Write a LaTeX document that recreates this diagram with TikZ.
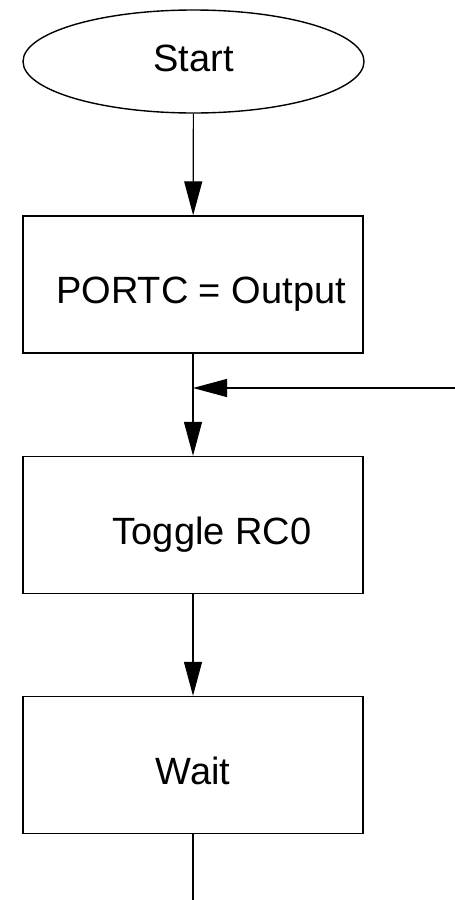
\documentclass[tikz,border=0pt]{standalone}
\usepackage{fontspec}
\setmainfont{Liberation Sans}
\usetikzlibrary{shapes.geometric,arrows.meta}
\tikzset{
	stepbox/.style={draw, line width=1.4pt, minimum width=340pt, minimum height=137pt, inner sep=0pt, text height=46pt, text depth=8pt},
	flow/.style={line width=1.2pt, -{Triangle[length=34pt,width=18pt]}}
}
\begin{document}
\begin{tikzpicture}[x=1pt,y=-1pt,font=\fontsize{38}{44}\selectfont]
				\useasboundingbox (0,0) rectangle (455,900);
				\node[draw, ellipse, line width=1.4pt, minimum width=341pt, minimum height=103pt, inner sep=0pt, text depth=6pt] (start) at (193.5,61.5) {Start};
				\node[stepbox] (portc) at (193,284.5) {\hspace*{16pt}PORTC = Output};
				\node[stepbox] (toggle) at (193,525) {\hspace*{38pt}Toggle RC0};
				\node[stepbox] (wait) at (193,765) {Wait};
				\coordinate (loopin) at (455,388);
				\coordinate (endpt) at (193,900);
				\draw[flow] (start) -- (portc);
				\draw[flow] (portc) -- (toggle);
				\draw[flow] (loopin) -- (portc.south |- loopin);
				\draw[flow] (toggle) -- (wait);
				\draw[line width=1.2pt] (wait) -- (endpt);
			\end{tikzpicture}
\end{document}
